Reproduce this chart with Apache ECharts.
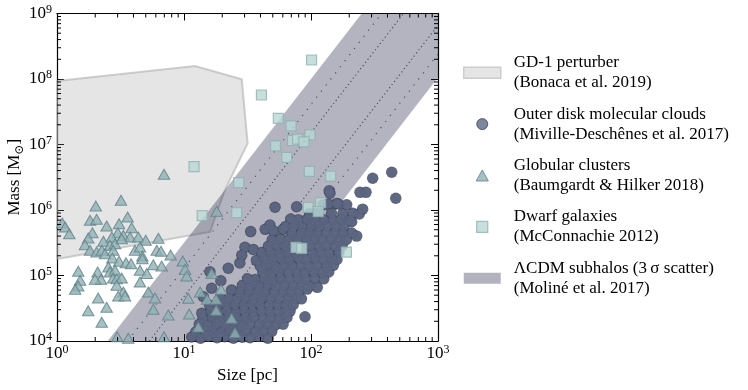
<!DOCTYPE html>
<html><head><meta charset="utf-8">
<script src="https://cdn.jsdelivr.net/npm/echarts@6/dist/echarts.min.js"></script>
<style>html,body{margin:0;padding:0;background:#fff}#c{width:748px;height:390px}</style>
</head><body><div id="c"></div>
<script>
// ---------- data ----------
const xTicks = [1, 10, 100, 1000];
const yTicks = [1e4, 1e5, 1e6, 1e7, 1e8, 1e9];
const xMinorTicks = [2,3,4,5,6,7,8,9,20,30,40,50,60,70,80,90,200,300,400,500,600,700,800,900];
const yMinorTicks = [2e4,3e4,4e4,5e4,6e4,7e4,8e4,9e4,2e5,3e5,4e5,5e5,6e5,7e5,8e5,9e5,2e6,3e6,4e6,5e6,6e6,7e6,8e6,9e6,2e7,3e7,4e7,5e7,6e7,7e7,8e7,9e7,2e8,3e8,4e8,5e8,6e8,7e8,8e8,9e8];

const gd1Size = [1, 12.2, 28.5, 31.7, 21.0, 16.0, 1];
const gd1Mass = [9.3e7, 1.58e8, 9.9e7, 1.04e7, 2.02e6, 4.62e5, 1.79e5];

const bandSize = [2.51, 251, 1000, 1000, 24.7];
const bandMass = [1e4, 1e9, 1e9, 1.05e8, 1e4];

const sig2UpSize = [3.6, 360],  sig2UpMass = [1e4, 1e9];
const sig1UpSize = [5.35, 535], sig1UpMass = [1e4, 1e9];
const sig1DnSize = [11.8, 1000], sig1DnMass = [1e4, 6.6e8];
const sig2DnSize = [17.7, 1000], sig2DnMass = [1e4, 2.4e8];

const cloudPoints = [
[11.5,1.15e4],[13.5,1.1e4],[15.5,1.18e4],[18.2,1.12e4],[20.9,1.16e4],[24.5,1.1e4],[28.8,1.14e4],[33.1,1.12e4],[38.9,1.17e4],[45.7,1.1e4],
[12.4,1.38e4],[14.5,1.45e4],[16.8,1.4e4],[19.5,1.36e4],[22.9,1.44e4],[26.6,1.4e4],[30.9,1.46e4],[36.3,1.38e4],[42.2,1.42e4],[49.0,1.4e4],
[13.2,1.8e4],[15.5,1.74e4],[18.0,1.8e4],[20.9,1.76e4],[24.5,1.82e4],[28.5,1.75e4],[33.1,1.8e4],[38.9,1.77e4],[45.2,1.82e4],[52.5,1.76e4],[60.3,1.8e4],
[14.1,2.2e4],[16.6,2.28e4],[19.3,2.22e4],[22.4,2.26e4],[26.3,2.2e4],[30.5,2.25e4],[35.5,2.3e4],[41.7,2.22e4],[48.4,2.26e4],[56.2,2.2e4],[64.6,2.28e4],
[13.8,2.65e4],[16.2,2.85e4],[18.8,2.8e4],[21.9,2.86e4],[25.7,2.78e4],[29.9,2.84e4],[34.7,2.8e4],[40.7,2.88e4],[47.3,2.8e4],[55.0,2.84e4],[63.1,2.78e4],[68.4,2.86e4],
[15.9,3.5e4],[18.6,3.6e4],[21.6,3.52e4],[25.1,3.58e4],[29.5,3.5e4],[34.3,3.6e4],[39.8,3.55e4],[46.8,3.5e4],[54.3,3.6e4],[63.1,3.52e4],[72.4,3.58e4],
[14.2,4.74e4],[19.5,4.4e4],[22.6,4.5e4],[26.3,4.44e4],[30.5,4.52e4],[35.5,4.42e4],[41.2,4.5e4],[47.9,4.45e4],[56.2,4.52e4],[65.3,4.4e4],[75.9,4.48e4],[84.1,4.4e4],
[16.5,6.38e4],[23.7,6.0e4],[27.5,5.6e4],[32.4,5.7e4],[37.6,5.55e4],[43.6,5.65e4],[51.3,5.58e4],[59.6,5.66e4],[69.2,5.6e4],[80.3,5.7e4],[93.3,6.2e4],
[19.5,8.3e4],[28.8,7.0e4],[33.5,7.1e4],[38.9,6.95e4],[45.7,7.15e4],[53.1,7.0e4],[61.7,7.1e4],[72.4,7.0e4],[84.1,7.15e4],[97.7,6.9e4],[112,6.6e4],
[31.6,8.9e4],[36.3,8.7e4],[42.7,9.0e4],[49.5,8.8e4],[57.5,9.1e4],[67.6,8.85e4],[78.5,9.0e4],[91.2,8.8e4],[107,9.0e4],[126,8.9e4],
[16.0,1.14e5],[22.3,1.29e5],[41.7,1.12e5],[48.4,1.1e5],[56.2,1.14e5],[66.1,1.11e5],[76.7,1.13e5],[89.1,1.1e5],[105,1.14e5],[122,1.11e5],[138,1.13e5],
[27.5,1.55e5],[39.8,1.4e5],[45.2,1.44e5],[52.5,1.38e5],[61.0,1.42e5],[70.8,1.4e5],[83.2,1.44e5],[96.6,1.38e5],[112,1.42e5],[132,1.4e5],[150,1.43e5],
[37.2,1.7e5],[28.5,2.04e5],[43.2,1.8e5],[50.1,1.76e5],[58.2,1.8e5],[67.6,1.77e5],[79.4,1.82e5],[92.3,1.75e5],[107,1.8e5],[125,1.77e5],[145,1.8e5],[160,1.76e5],
[30.2,2.7e5],[35.1,2.5e5],[40.7,2.24e5],[47.9,2.26e5],[55.6,2.2e5],[64.6,2.27e5],[75.0,2.22e5],[87.1,2.26e5],[102,2.2e5],[119,2.25e5],[138,2.22e5],[166,2.26e5],
[46.2,2.8e5],[53.7,2.86e5],[62.4,2.8e5],[72.4,2.84e5],[85.1,2.78e5],[98.9,2.85e5],[115,2.8e5],[133,2.86e5],[155,2.8e5],[176,2.84e5],
[49.5,3.5e5],[57.5,3.6e5],[66.8,3.52e5],[77.6,3.58e5],[91.2,3.5e5],[106,3.6e5],[123,3.54e5],[143,3.58e5],[166,3.5e5],[190,3.56e5],
[33.5,4.68e5],[43.6,5.07e5],[50.7,4.79e5],[60.3,5.07e5],[70.8,4.5e5],[83.2,4.4e5],[96.6,4.52e5],[112,4.44e5],[132,4.5e5],[153,4.42e5],[178,4.5e5],[209,4.45e5],[229,4.0e5],
[47.5,5.9e5],[63.1,5.6e5],[73.3,5.65e5],[85.1,5.58e5],[100,5.66e5],[116,5.6e5],[135,5.64e5],[157,5.58e5],[182,5.65e5],[209,6.62e5],
[69.2,7.3e5],[79.4,7.1e5],[93.3,7.2e5],[108,7.0e5],[126,7.1e5],[148,7.05e5],[172,7.15e5],[200,7.0e5],
[97.7,8.8e5],[112,9.0e5],[145,8.9e5],[178,8.8e5],[214,8.9e5],[240,8.7e5],
[52.1,1.1e6],[77.1,1.12e6],[125,1.2e6],[137,1.23e6],[159,1.26e6],[164,1.23e6],[191,1.2e6],[255,1.03e6],
[139,1.97e6],[141,1.8e6],[243,1.86e6],[271,1.86e6],[306,3.05e6],[432,3.77e6],[465,1.51e6],[89.7,2.35e4]
];

const gcPoints = [
[3.19,1.41e6],[2.02,1.15e6],[1.82,6.97e5],[2.05,7.21e5],[3.60,7.82e5],[2.46,5.70e5],[3.08,6.18e5],[3.87,5.37e5],
[1.10,6.33e5],[1.16,5.50e5],[1.25,4.35e5],[1.90,4.50e5],[3.01,4.50e5],[1.76,3.74e5],[1.66,2.95e5],[2.32,3.33e5],
[2.70,3.87e5],[3.33,4.11e5],[3.76,3.87e5],[4.37,3.87e5],[4.99,3.45e5],[2.61,2.89e5],[2.86,3.06e5],[3.23,3.65e5],
[1.82,2.43e5],[2.05,2.28e5],[2.25,2.43e5],[2.39,2.15e5],[2.77,2.43e5],[4.11,2.43e5],[4.50,2.72e5],[4.70,1.98e5],
[4.70,1.80e5],[6.10,2.43e5],[6.59,2.34e5],[2.73,1.85e5],[3.08,1.65e5],[3.49,1.57e5],[3.83,1.51e5],[5.73,1.46e5],
[6.67,1.40e5],[2.54,1.35e5],[2.61,1.13e5],[2.86,1.20e5],[4.50,1.20e5],[5.09,1.07e5],[1.47,1.16e5],[2.09,1.13e5],
[2.22,8.75e4],[1.99,8.75e4],[2.77,9.16e4],[2.95,8.93e4],[3.23,9.16e4],[1.52,8.45e4],[4.50,7.96e4],[1.47,6.92e4],
[1.39,6.16e4],[2.95,7.08e4],[3.33,5.60e4],[3.04,4.86e4],[3.43,4.86e4],[2.11,4.53e4],[5.24,5.60e4],[5.91,4.53e4],
[2.46,3.27e4],[1.76,2.90e4],[2.25,1.93e4],[2.98,1.16e4],[3.64,1.10e4],[5.73,3.05e4],[6.28,3.70e5],[7.85,2.06e5],
[9.77,1.66e5],[10.2,1.24e5],[10.5,9.83e4],[16.5,1.08e5],[13.4,5.60e4],[10.8,4.49e4],[19.6,6.11e4],[15.2,4.33e4],
[17.9,4.33e4],[7.52,2.49e4],[11.0,2.58e4],[17.9,2.94e4],[23.7,2.22e4],[12.96,1.64e4],[25.2,1.34e4],[6.96,1.16e4],
[18.1,9.59e5],[6.96,3.51e6]
];

const dwarfPoints = [
[101,1.95e8],[40.7,5.70e7],[55.3,2.51e7],[69.6,1.92e7],[98.2,1.40e7],[71.5,1.15e7],[78.3,1.21e7],[88.1,1.10e7],
[52.6,9.5e6],[64.4,6.38e6],[97.0,3.90e6],[143,3.30e6],[12.0,4.61e6],[27.0,2.61e6],[13.9,8.19e5],[26.0,9.10e5],
[95.2,1.10e6],[119,1.30e6],[114,9.42e5],[76.2,2.68e5],[84.5,2.60e5],[190,2.28e5]
];

const names = {
  gd1: 'GD-1 perturber\n(Bonaca et al. 2019)',
  cloud: 'Outer disk molecular clouds\n(Miville-Deschênes et al. 2017)',
  gc: 'Globular clusters\n(Baumgardt & Hilker 2018)',
  dwarf: 'Dwarf galaxies\n(McConnachie 2012)',
  band: 'ΛCDM subhalos (3\u2009σ scatter)\n(Moliné et al. 2017)'
};

// ---------- styles ----------
const FF = "'Liberation Serif','DejaVu Serif',serif";
const cloudStyle = {color:'#5e6884', borderColor:'#3b4258', borderWidth:1};
const cloudEdge = {color:'#3b4258', borderWidth:0};
const cloudFill = {color:'#5e6884', borderWidth:0};
const gcStyle = {color:'#91b2b4', borderColor:'#5e7f88', borderWidth:1};
const dwarfStyle = {color:'#b9d8d6', borderColor:'#8fb0b0', borderWidth:1.2};
const gd1Style = {fill:'rgba(150,150,150,0.25)', stroke:'rgba(170,170,170,0.55)', lineWidth:2};
const bandStyle = {fill:'rgba(40,40,75,0.35)'};

function polygonSeries(name, xs, ys, style, z) {
  return {
    name, type:'custom', z, silent:true,
    data: xs.map((x,i)=>[x, ys[i]]),
    renderItem: function(params, api) {
      if (params.dataIndex !== 0) return null;
      const pts = xs.map((x,i)=>api.coord([x, ys[i]]));
      return {type:'polygon', shape:{points:pts}, style:style};
    }
  };
}
function dotted(xs, ys, dash) {
  return {type:'line', z:3, silent:true, symbol:'none', data: xs.map((x,i)=>[x, ys[i]]),
    lineStyle:{color:'#4e4e6c', width:1.2, type:dash}};
}
const labelRich = {
  b:{fontSize:17, lineHeight:20, fontFamily:FF, color:'#000'},
  s:{fontSize:12, lineHeight:8, verticalAlign:'top', fontFamily:FF, color:'#000'}
};
const fmt = v => '{b|10}{s|' + Math.round(Math.log10(v)) + '}';
const tickCommon = {inside:true, length:7, lineStyle:{color:'#000', width:1}};
const lineCommon = {show:true, onZero:false, lineStyle:{color:'#000', width:1.2}};

const chart = echarts.init(document.getElementById('c'), null, {renderer:'canvas'});
chart.setOption({
  animation:false,
  backgroundColor:'#fff',
  grid:{left:57, right:310, top:13.5, bottom:49, containLabel:false, outerBoundsMode:'none'},
  xAxis:[
    {type:'log', logBase:10, min:xTicks[0], max:xTicks[xTicks.length-1], position:'bottom',
     axisLine:lineCommon, axisTick:tickCommon, splitLine:{show:false},
     axisLabel:{formatter:fmt, rich:labelRich, margin:3},
     name:'Size [pc]', nameLocation:'middle', nameGap:26, nameMoveOverlap:false,
     nameTextStyle:{fontFamily:FF, fontSize:17, color:'#000'}},
    {type:'log', logBase:10, min:xTicks[0], max:xTicks[xTicks.length-1], position:'top',
     axisLine:lineCommon, axisTick:tickCommon, splitLine:{show:false}, axisLabel:{show:false}}
  ],
  yAxis:[
    {type:'log', logBase:10, min:yTicks[0], max:yTicks[yTicks.length-1], position:'left',
     axisLine:lineCommon, axisTick:tickCommon, splitLine:{show:false},
     axisLabel:{formatter:fmt, rich:labelRich, margin:5},
     name:'{n|Mass [M}{u|⊙}{n|]}', nameLocation:'middle', nameGap:31, nameRotate:90, nameMoveOverlap:false,
     nameTextStyle:{rich:{n:{fontFamily:FF, fontSize:17, lineHeight:22, color:'#000'},
                          u:{fontFamily:FF, fontSize:12, lineHeight:8, verticalAlign:'bottom', color:'#000'}}}},
    {type:'log', logBase:10, min:yTicks[0], max:yTicks[yTicks.length-1], position:'right',
     axisLine:lineCommon, axisTick:tickCommon, splitLine:{show:false}, axisLabel:{show:false}}
  ],
  legend:{
    orient:'vertical', left:463, top:52.7, padding:0, itemWidth:37, itemHeight:11, itemGap:11.4,
    selectedMode:false, symbolKeepAspect:true,
    textStyle:{fontFamily:FF, fontSize:17, lineHeight:20, color:'#000', padding:[0,0,0,8]},
    data:[
      {name:names.gd1, icon:'rect', itemStyle:{color:'#e5e5e5', borderColor:'#cccccc', borderWidth:1.5}},
      {name:names.cloud, icon:'circle', itemStyle:cloudStyle},
      {name:names.gc, icon:'path://M5,0 L10,9 L0,9 Z', itemStyle:gcStyle},
      {name:names.dwarf, icon:'path://M0,0 H10 V10 H0 Z', itemStyle:dwarfStyle},
      {name:names.band, icon:'rect', itemStyle:{color:'#b3b3bf', borderWidth:0}}
    ]
  },
  series:[
    polygonSeries(names.gd1, gd1Size, gd1Mass, gd1Style, 1),
    polygonSeries(names.band, bandSize, bandMass, bandStyle, 2),
    dotted(sig2UpSize, sig2UpMass, [1.2, 6.5]),
    dotted(sig1UpSize, sig1UpMass, [1.2, 2.8]),
    dotted(sig1DnSize, sig1DnMass, [1.2, 2.8]),
    dotted(sig2DnSize, sig2DnMass, [1.2, 6.5]),
    {name:names.cloud, type:'scatter', z:4, symbol:'circle', symbolSize:11.5, data:cloudPoints, itemStyle:cloudEdge, silent:true},
    {name:names.cloud, type:'scatter', z:4, symbol:'circle', symbolSize:9.3, data:cloudPoints, itemStyle:cloudFill, silent:true},
    {name:names.gc, type:'scatter', z:5, symbol:'triangle', symbolSize:[11.5,10], data:gcPoints, itemStyle:gcStyle, silent:true},
    {name:names.dwarf, type:'scatter', z:6, symbol:'rect', symbolSize:10, data:dwarfPoints, itemStyle:dwarfStyle, silent:true},
    {type:'custom', z:10, silent:true, data:xMinorTicks.map(v=>[v, yTicks[0]]),
     renderItem:function(params, api){
       const cs = params.coordSys; const x = api.coord([api.value(0), yTicks[0]])[0];
       return {type:'group', children:[
         {type:'line', shape:{x1:x, y1:cs.y+cs.height, x2:x, y2:cs.y+cs.height-4}, style:{stroke:'#000', lineWidth:1}},
         {type:'line', shape:{x1:x, y1:cs.y, x2:x, y2:cs.y+4}, style:{stroke:'#000', lineWidth:1}}]};
     }},
    {type:'custom', z:10, silent:true, data:yMinorTicks.map(v=>[xTicks[0], v]),
     renderItem:function(params, api){
       const cs = params.coordSys; const y = api.coord([xTicks[0], api.value(1)])[1];
       return {type:'group', children:[
         {type:'line', shape:{x1:cs.x, y1:y, x2:cs.x+4, y2:y}, style:{stroke:'#000', lineWidth:1}},
         {type:'line', shape:{x1:cs.x+cs.width, y1:y, x2:cs.x+cs.width-4, y2:y}, style:{stroke:'#000', lineWidth:1}}]};
     }}
  ]
});
</script></body></html>
